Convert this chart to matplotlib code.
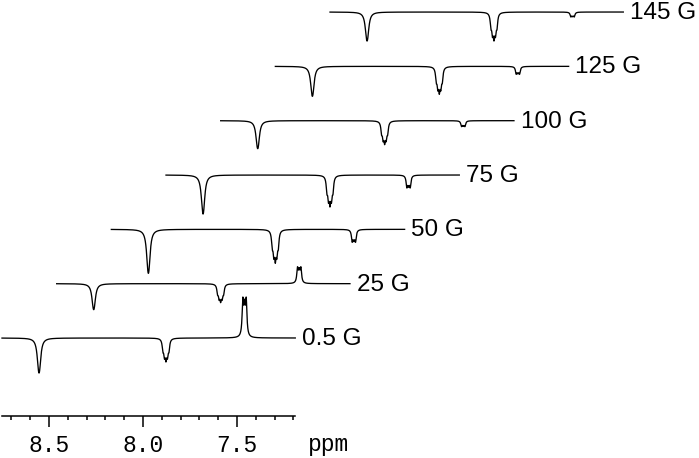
import numpy as np
import matplotlib.pyplot as plt

fields = ['0.5 G', '25 G', '50 G', '75 G', '100 G', '125 G', '145 G']

# peak centres in ppm
shifts = [8.553, 7.878, 7.460]

# extreme intensity of each peak for every field (negative = pointing down)
amp_a = [-35, -26, -44, -39, -28, -30, -29]
amp_b = [-24, -19, -34, -32, -24, -28, -29]
amp_c = [41, 17, -13, -13, -6, -8, -5]

# multiplet lines: offsets from centre (ppm) and relative heights
offs_a = [-0.003, 0.003]
rel_a = [1.0, 1.0]
offs_b = [-0.016, -0.008, 0.0, 0.008, 0.016]
rel_b = [0.6, 0.85, 1.0, 0.85, 0.6]
offs_c = [-0.009, 0.0, 0.009]
rel_c = [1.0, 0.75, 1.0]
hwhm = [0.009, 0.0045, 0.0045]

ticks_major = [8.5, 8.0, 7.5]
ticks_minor = [8.7, 8.6, 8.4, 8.3, 8.2, 8.1, 7.9, 7.8, 7.7, 7.6, 7.4, 7.3, 7.2]

PPM_LEFT = 8.75
PPM_RIGHT = 7.19
PX_PER_PPM = 188.0
DX = 54.67 / PX_PER_PPM   # shift of each trace to the right
DY = 54.33                # shift of each trace upwards (px)
BASE0 = 78.0              # baseline of first trace above the axis (px)


def multiplet(x, centre, offs, rel, w):
	y = np.zeros_like(x)
	for o, r in zip(offs, rel):
		y = y + r * w**2 / ((x - centre - o)**2 + w**2)
	return y / np.abs(y).max()


def main():
	fig = plt.figure(figsize=(6.99, 4.58), dpi=100)
	ax = fig.add_axes([0, (458 - 416) / 458, 1, 416 / 458])

	x = np.linspace(PPM_LEFT, PPM_RIGHT, 5000)
	shape_a = multiplet(x, shifts[0], offs_a, rel_a, hwhm[0])
	shape_b = multiplet(x, shifts[1], offs_b, rel_b, hwhm[1])
	shape_c = multiplet(x, shifts[2], offs_c, rel_c, hwhm[2])

	for k in range(len(fields)):
		y = BASE0 + k * DY + amp_a[k] * shape_a + amp_b[k] * shape_b + amp_c[k] * shape_c
		ax.plot(x - k * DX, y, color='black', lw=0.95)
		ax.text(PPM_RIGHT - k * DX - 0.035, BASE0 + k * DY - 1, fields[k],
				ha='left', va='center', fontsize=17.5, family='Liberation Sans')

	ax.set_xlim(8.5 + 49 / PX_PER_PPM, 8.5 + 49 / PX_PER_PPM - 699 / PX_PER_PPM)
	ax.set_ylim(0, 416)

	for s in ['top', 'left', 'right']:
		ax.spines[s].set_visible(False)
	ax.spines['bottom'].set_bounds(PPM_RIGHT, PPM_LEFT)
	ax.spines['bottom'].set_linewidth(1.1)
	ax.set_yticks([])
	ax.set_xticks(ticks_major)
	ax.set_xticks(ticks_minor, minor=True)
	ax.set_xticklabels(['%.1f' % t for t in ticks_major], family='Liberation Mono', fontsize=16.5)
	ax.tick_params(axis='x', which='major', length=8, width=1.1, pad=5)
	ax.tick_params(axis='x', which='minor', length=3, width=1.1)
	ax.text(7.011, -28, 'ppm', ha='center', va='center', fontsize=16.5, family='Liberation Mono')

	fig.savefig('out.png', dpi=100)


if __name__ == '__main__':
	main()
